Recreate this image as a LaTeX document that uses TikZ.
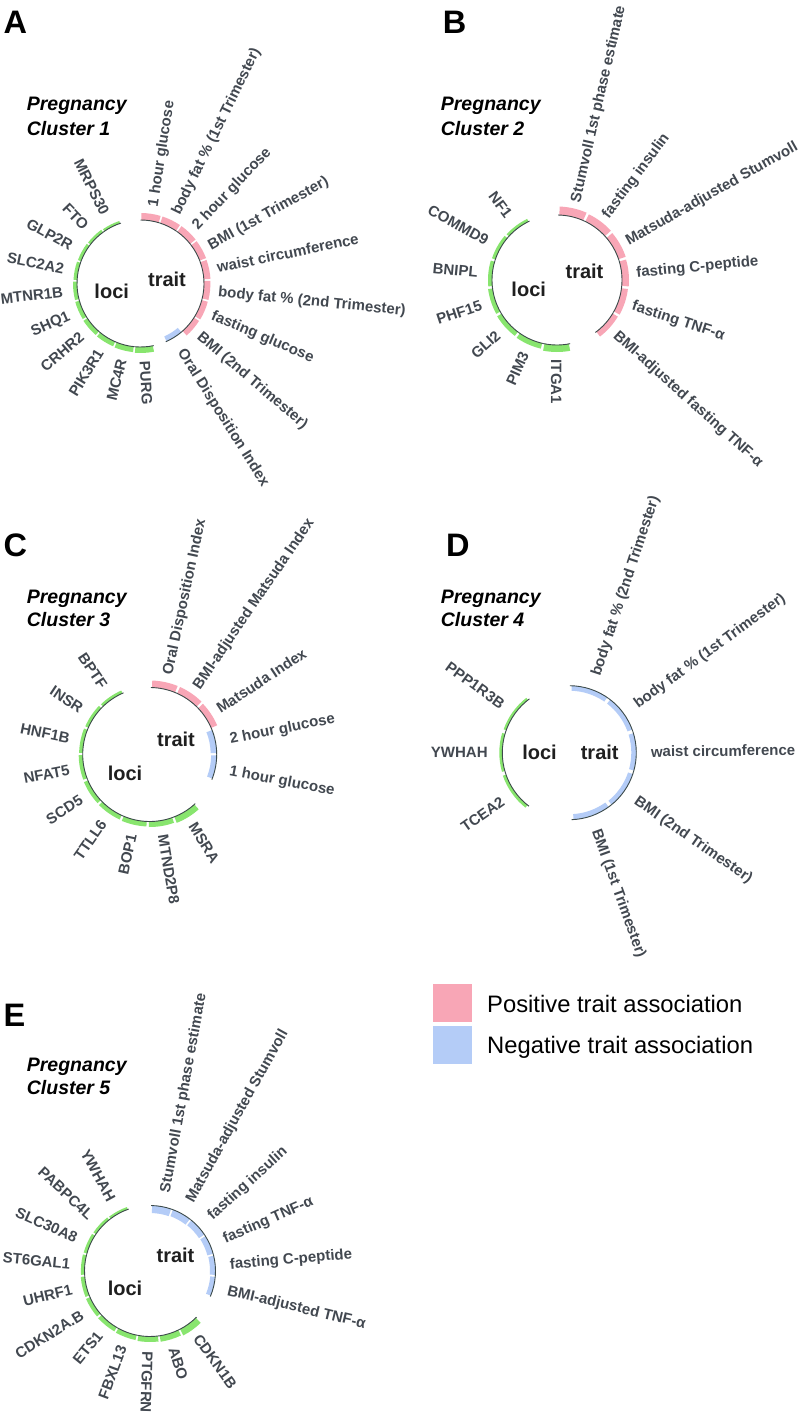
\documentclass[tikz,border=0pt]{standalone}
\usepackage{fontspec}
\setmainfont{Liberation Sans}
\definecolor{posc}{RGB}{248,166,182}
\definecolor{negc}{RGB}{180,204,247}
\definecolor{locc}{RGB}{136,229,110}
\definecolor{labc}{RGB}{66,72,80}
\definecolor{trackc}{RGB}{60,74,74}
\tikzset{
  lab/.style={font=\bfseries\fontsize{15}{18}\selectfont, text=labc, inner sep=0pt, text height=10.8pt, text depth=0pt},
  core/.style={font=\bfseries\fontsize{20}{24}\selectfont, text=black!88, inner sep=0pt, anchor=base},
  ttl/.style={font=\bfseries\itshape\fontsize{19.5}{24}\selectfont, inner sep=0pt, anchor=base west},
  letter/.style={font=\bfseries\fontsize{32.5}{36}\selectfont, inner sep=0pt, anchor=base west},
  legtxt/.style={font=\fontsize{23.8}{28}\selectfont, inner sep=0pt, anchor=base west},
  track/.style={draw=trackc, line width=0.9pt},
}
\newcommand\ring[5]{%
  \pgfmathsetmacro\lR{#1+14.5}%
  \foreach \lab/\h/\col [count=\i] in {#5} {%
    \pgfmathsetmacro\sA{#2+(\i-1)*(#3)}%
    \pgfmathsetmacro\sB{#2+\i*(#3)}%
    \pgfmathsetmacro\gA{\sA+0.045*(#3)}%
    \pgfmathsetmacro\gB{\sB-0.045*(#3)}%
    \pgfmathsetmacro\mA{#2+(\i-0.5)*(#3)}%
    \pgfmathsetmacro\oR{#1+\h}%
    \fill[\col] (\gA:#1pt) arc[start angle=\gA, end angle=\gB, radius=#1pt] -- (\gB:\oR pt) arc[start angle=\gB, end angle=\gA, radius=\oR pt] -- cycle;
    \draw[track] (\sA:#1pt) arc[start angle=\sA, end angle=\sB, radius=#1pt];
    \pgfmathsetmacro\nA{mod(\mA+720,360)}%
    \pgfmathtruncatemacro\fL{(\nA>90)*(\nA<268)}%
    \ifnum\fL=1
      \pgfmathsetmacro\rT{\mA-180}%
      \node[lab,anchor=east,rotate=\rT] (#4\i) at (\mA:\lR pt) {\lab};
    \else
      \node[lab,anchor=west,rotate=\mA] (#4\i) at (\mA:\lR pt) {\lab};
    \fi
  }}
\begin{document}
\begin{tikzpicture}[x=1pt,y=1pt]
\fill[white] (0,0) rectangle (802,-1416);
\useasboundingbox (0,0) rectangle (802,-1416);

% ---------- Panel A ----------
\node[letter] (LA) at (3.3,-33.3) {A};
\node[ttl] (tA1) at (26.7,-110.7) {Pregnancy};
\node[ttl] (tA2) at (26.7,-135) {Cluster 1};
\begin{scope}[shift={(140.5,-283.5)}]
\ring{63.5}{108}{17.4}{Al}{MRPS30/2.5/locc, FTO/3/locc, GLP2R/3.3/locc, SLC2A2/3.6/locc, MTNR1B/4/locc, SHQ1/4.3/locc, CRHR2/4.7/locc, PIK3R1/5/locc, MC4R/5.5/locc, PURG/6/locc}
\ring{63.5}{90}{-17.4}{At}{1 hour glucose/7/posc, body fat \% (1st Trimester)/7/posc, 2 hour glucose/7/posc, BMI (1st Trimester)/6.8/posc, waist circumference/6.6/posc, body fat \% (2nd Trimester)/6.4/posc, fasting glucose/6.2/posc, BMI (2nd Trimester)/6/posc, Oral Disposition Index/-5.5/negc}
\end{scope}
\node[core] (cA1) at (111.7,-298.3) {loci};
\node[core] (cA2) at (167,-286) {trait};

% ---------- Panel B ----------
\node[letter] (LB) at (442.7,-33.3) {B};
\node[ttl] (tB1) at (440.7,-110.7) {Pregnancy};
\node[ttl] (tB2) at (440.7,-135) {Cluster 2};
\begin{scope}[shift={(557,-280)}]
\ring{65}{115}{23.8}{Bl}{NF1/3/locc, COMMD9/3.5/locc, BNIPL/4/locc, PHF15/4.5/locc, GLI2/5/locc, PIM3/5.5/locc, ITGA1/7/locc}
\ring{65}{89}{-23.8}{Bt}{Stumvoll 1st phase estimate/8.5/posc, fasting insulin/8/posc, Matsuda-adjusted Stumvoll/7.5/posc, fasting C-peptide/7/posc, fasting TNF-α/6.5/posc, BMI-adjusted fasting TNF-α/6/posc}
\end{scope}
\node[core] (cB1) at (528.7,-296.7) {loci};
\node[core] (cB2) at (584.5,-278.3) {trait};

% ---------- Panel C ----------
\node[letter] (LC) at (3.3,-556.7) {C};
\node[ttl] (tC1) at (26.7,-603.3) {Pregnancy};
\node[ttl] (tC2) at (26.7,-626.7) {Cluster 3};
\begin{scope}[shift={(149.7,-754.5)}]
\ring{67}{113}{22.2}{Cl}{BPTF/3/locc, INSR/3.3/locc, HNF1B/3.6/locc, NFAT5/4/locc, SCD5/4.3/locc, TTLL6/4.6/locc, BOP1/5/locc, MTND2P8/5.5/locc, MSRA/6.5/locc}
\ring{67}{89}{-22.2}{Ct}{Oral Disposition Index/7/posc, BMI-adjusted Matsuda Index/7/posc, Matsuda Index/6.5/posc, 2 hour glucose/-6/negc, 1 hour glucose/-5.5/negc}
\end{scope}
\node[core] (cC1) at (125,-780) {loci};
\node[core] (cC2) at (176,-746) {trait};

% ---------- Panel D ----------
\node[letter] (LD) at (446,-556.7) {D};
\node[ttl] (tD1) at (440.7,-603.3) {Pregnancy};
\node[ttl] (tD2) at (440.7,-626.7) {Cluster 4};
\begin{scope}[shift={(569.3,-752.7)}]
\ring{67}{126.5}{35.5}{Dl}{PPP1R3B/2.7/locc, YWHAH/3/locc, TCEA2/3.3/locc}
\ring{67}{89.5}{-35.5}{Dt}{body fat \% (2nd Trimester)/-5/negc, body fat \% (1st Trimester)/-5/negc, waist circumference/-5/negc, BMI (2nd Trimester)/-5/negc, BMI (1st Trimester)/-5.5/negc}
\end{scope}
\node[core] (cD1) at (539.5,-759.3) {loci};
\node[core] (cD2) at (599.7,-759.3) {trait};

% ---------- Panel E ----------
\node[letter] (LE) at (3.3,-1026) {E};
\node[ttl] (tE1) at (26.7,-1071.7) {Pregnancy};
\node[ttl] (tE2) at (26.7,-1094.3) {Cluster 5};
\begin{scope}[shift={(150,-1271)}]
\ring{65.5}{109}{18.75}{El}{YWHAH/2.5/locc, PABPC4L/3/locc, SLC30A8/3.3/locc, ST6GAL1/3.6/locc, UHRF1/4/locc, CDKN2A.B/4.3/locc, ETS1/4.6/locc, FBXL13/5/locc, PTGFRN/5.5/locc, ABO/6/locc, CDKN1B/7/locc}
\ring{65.5}{89}{-18.65}{Et}{Stumvoll 1st phase estimate/-7.5/negc, Matsuda-adjusted Stumvoll/-7/negc, fasting insulin/-6.5/negc, fasting TNF-α/-6/negc, fasting C-peptide/-5.5/negc, BMI-adjusted TNF-α/-5/negc}
\end{scope}
\node[core] (cE1) at (125,-1295) {loci};
\node[core] (cE2) at (175.5,-1262.7) {trait};

% ---------- Legend ----------
\fill[posc] (433,-984) rectangle (472,-1022);
\fill[negc] (433,-1026) rectangle (472,-1064);
\node[legtxt] (lg1) at (487,-1012) {Positive trait association};
\node[legtxt] (lg2) at (487,-1053) {Negative trait association};
\end{tikzpicture}
\end{document}
